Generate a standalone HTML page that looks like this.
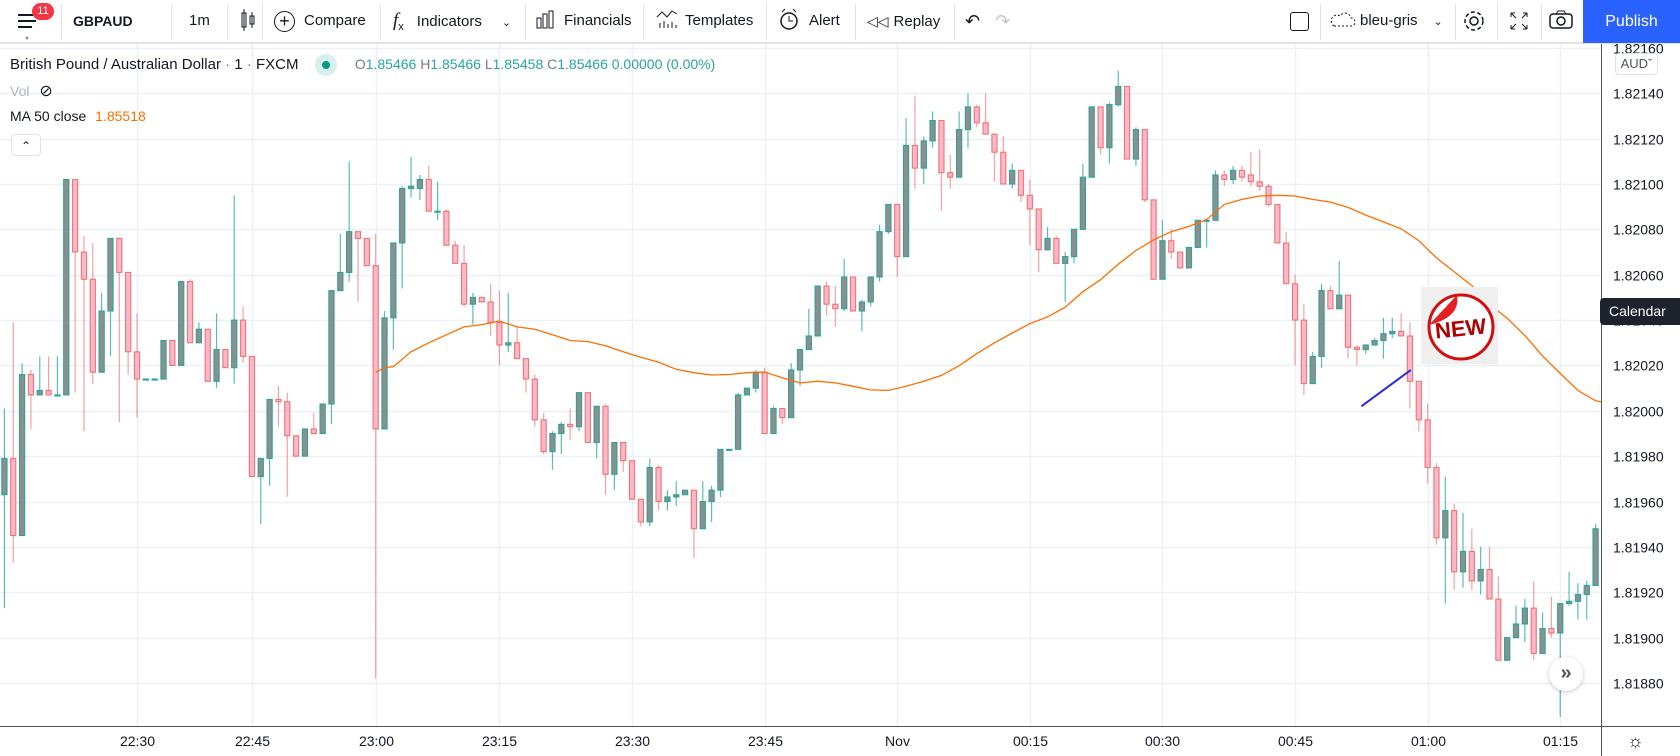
<!DOCTYPE html>
<html><head><meta charset="utf-8"><style>
*{box-sizing:border-box;margin:0;padding:0}
body{width:1680px;height:756px;overflow:hidden;background:#fff;font-family:"Liberation Sans",sans-serif;color:#131722;position:relative}
.tb{position:absolute;left:0;top:0;width:1680px;height:44px;border-bottom:2px solid #e0e3eb;background:#fff}
.ti{position:absolute;top:0;height:42px;line-height:42px;font-size:15px;color:#131722;white-space:nowrap}
.sep{position:absolute;top:4px;width:1px;height:36px;background:#e0e3eb}
.ax{font-size:14px;fill:#131722;font-family:"Liberation Sans",sans-serif}
</style></head><body>
<div class="tb">
  <div class="ti" style="left:17px;top:2px">
    <svg width="22" height="40"><rect x="1" y="12" width="18" height="2" fill="#131722"/><rect x="1" y="18" width="18" height="2" fill="#131722"/><rect x="1" y="24" width="14" height="2" fill="#131722"/><circle cx="10" cy="36" r="1.5" fill="#999"/></svg>
  </div>
  <div style="position:absolute;left:32px;top:3px;width:22px;height:17px;border-radius:9px;background:#f23645;color:#fff;font-size:11px;text-align:center;line-height:17px">11</div>
  <div class="sep" style="left:61px"></div>
  <div class="ti" style="left:73px;font-weight:bold;font-size:14px">GBPAUD</div>
  <div class="sep" style="left:171px"></div>
  <div class="ti" style="left:189px">1m</div>
  <div class="sep" style="left:227px"></div>
  <div class="ti" style="left:239px"><svg width="18" height="40"><rect x="3" y="13" width="4" height="14" fill="none" stroke="#131722"/><line x1="5" y1="9" x2="5" y2="31" stroke="#131722"/><rect x="11" y="16" width="4" height="8" fill="none" stroke="#131722"/><line x1="13" y1="12" x2="13" y2="28" stroke="#131722"/></svg></div>
  <div class="sep" style="left:262px"></div>
  <div class="ti" style="left:274px"><span style="display:inline-block;width:21px;height:21px;border:1.5px solid #131722;border-radius:50%;text-align:center;line-height:18px;font-size:18px;vertical-align:middle;margin-right:9px">+</span>Compare</div>
  <div class="sep" style="left:380px"></div>
  <div class="ti" style="left:393px"><i style="font-family:'Liberation Serif',serif;font-size:19px">f</i><sub style="font-size:11px">x</sub><span style="margin-left:13px">Indicators</span><span style="margin-left:20px;font-size:11px">&#8964;</span></div>
  <div class="sep" style="left:525px"></div>
  <div class="ti" style="left:535px"><svg width="20" height="40" style="vertical-align:top"><rect x="2" y="18" width="4" height="10" fill="none" stroke="#131722"/><rect x="8" y="14" width="4" height="14" fill="none" stroke="#131722"/><rect x="14" y="11" width="4" height="17" fill="none" stroke="#131722"/></svg><span style="margin-left:9px">Financials</span></div>
  <div class="sep" style="left:643px"></div>
  <div class="ti" style="left:656px"><svg width="22" height="40" style="vertical-align:top"><polyline points="1,17 6,12 11,17 16,11 21,14" fill="none" stroke="#131722"/><path d="M4 28v-5M8 28v-7M12 28v-4M16 28v-6M20 28v-3" stroke="#131722"/></svg><span style="margin-left:7px">Templates</span></div>
  <div class="sep" style="left:766px"></div>
  <div class="ti" style="left:778px"><svg width="24" height="40" style="vertical-align:top"><circle cx="11" cy="21" r="8" fill="none" stroke="#131722" stroke-width="1.5"/><path d="M11 16v5h4M4 12l3-3M18 12l-3-3" stroke="#131722" fill="none"/></svg><span style="margin-left:7px">Alert</span></div>
  <div class="sep" style="left:855px"></div>
  <div class="ti" style="left:867px"><span style="font-size:14px">&#9665;&#9665;</span><span style="margin-left:5px">Replay</span></div>
  <div class="sep" style="left:954px"></div>
  <div class="ti" style="left:965px;font-size:18px;color:#131722">&#8630;</div>
  <div class="ti" style="left:995px;font-size:18px;color:#c5c8d0">&#8631;</div>
  <div class="ti" style="left:1290px"><span style="display:inline-block;width:19px;height:19px;border:1.5px solid #131722;border-radius:3px;vertical-align:middle"></span></div>
  <div class="sep" style="left:1320px"></div>
  <div class="ti" style="left:1330px"><svg width="26" height="40" style="vertical-align:top"><path d="M4 26h17a4 4 0 0 0 0-8 6 6 0 0 0-11-2 5 5 0 0 0-6 10z" fill="none" stroke="#131722" stroke-dasharray="2 2"/></svg><span style="margin-left:4px">bleu-gris</span><span style="margin-left:16px;font-size:11px">&#8964;</span></div>
  <div class="sep" style="left:1455px"></div>
  <div class="ti" style="left:1462px"><svg width="24" height="40"><circle cx="12" cy="21" r="4" fill="none" stroke="#131722" stroke-width="1.5"/><circle cx="12" cy="21" r="9" fill="none" stroke="#131722" stroke-width="1.5" stroke-dasharray="4 2.5"/></svg></div>
  <div class="sep" style="left:1497px"></div>
  <div class="ti" style="left:1508px"><svg width="22" height="40"><path d="M3 13l5 5M3 13v4M3 13h4M19 13l-5 5M19 13v4M19 13h-4M3 29l5-5M3 29v-4M3 29h4M19 29l-5-5M19 29v-4M19 29h-4" stroke="#131722" fill="none"/></svg></div>
  <div class="sep" style="left:1541px"></div>
  <div class="ti" style="left:1548px"><svg width="26" height="40"><rect x="2" y="14" width="22" height="14" rx="3" fill="none" stroke="#131722" stroke-width="1.5"/><circle cx="13" cy="21" r="4" fill="none" stroke="#131722" stroke-width="1.5"/><path d="M8 14l2-3h6l2 3" fill="none" stroke="#131722"/></svg></div>
  <div style="position:absolute;left:1583px;top:0;width:97px;height:43px;background:#2962ff;color:#fff;font-size:16px;line-height:43px;text-align:center">Publish</div>
</div>

<svg id="chart" width="1680" height="756" style="position:absolute;left:0;top:0">
  <g id="grid"></g>
  <g id="candles" clip-path="url(#clipc)"></g>
  <g id="ma" clip-path="url(#clipc)"></g>
  <g id="drawings" clip-path="url(#clipc)"></g>
  <defs><clipPath id="clipc"><rect x="0" y="45" width="1601" height="681"/></clipPath></defs>
  <line x1="1601.5" y1="44" x2="1601.5" y2="756" stroke="#50535e" stroke-width="1"/>
  <line x1="0" y1="726.5" x2="1680" y2="726.5" stroke="#50535e" stroke-width="1"/>
  <g id="yaxis"></g>
  <g id="xaxis"></g>
</svg>

<div style="position:absolute;left:10px;top:54px;font-size:15px;white-space:nowrap">
  <span>British Pound / Australian Dollar <span style="color:#787b86">·</span> 1 <span style="color:#787b86">·</span> FXCM</span>
  <span style="display:inline-block;width:22px;height:22px;border-radius:50%;background:#d6f0ee;vertical-align:middle;margin-left:12px;position:relative"><span style="position:absolute;left:7px;top:7px;width:8px;height:8px;border-radius:50%;background:#089981"></span></span>
  <span style="margin-left:14px;font-size:14px"><span style="color:#787b86">O</span><span style="color:#26a69a">1.85466</span> <span style="color:#787b86">H</span><span style="color:#26a69a">1.85466</span> <span style="color:#787b86">L</span><span style="color:#26a69a">1.85458</span> <span style="color:#787b86">C</span><span style="color:#26a69a">1.85466 0.00000 (0.00%)</span></span>
</div>
<div style="position:absolute;left:10px;top:81px;font-size:14px;color:#b2b5be">Vol <span style="font-size:16px;color:#131722;margin-left:6px">&#8856;</span></div>
<div style="position:absolute;left:10px;top:108px;font-size:14px;color:#131722">MA 50 close <span style="color:#ff6d00;margin-left:5px">1.85518</span></div>
<div style="position:absolute;left:11px;top:134px;width:30px;height:22px;border:1px solid #e0e3eb;border-radius:4px;text-align:center;font-size:12px;line-height:22px;background:#fff">&#8963;</div>
<div style="position:absolute;left:1615px;top:53px;width:43px;height:22px;border:1px solid #e0e3eb;border-radius:4px;font-size:13px;line-height:20px;text-align:center;background:#fff;color:#50535e">AUD&#711;</div>
<div style="position:absolute;left:1600px;top:298px;width:80px;height:27px;background:#1e222d;border-radius:4px 0 0 4px;color:#fff;font-size:14px;line-height:27px;padding-left:9px">Calendar</div>
<div style="position:absolute;left:1549px;top:657px;width:34px;height:34px;border-radius:50%;background:#fff;box-shadow:0 1px 5px rgba(0,0,0,.22);text-align:center;line-height:32px;font-size:20px;color:#50535e;font-weight:bold">&#187;</div>
<div style="position:absolute;left:1627px;top:731px;font-size:18px">&#9788;</div>

<div style="position:absolute;left:1421px;top:287px;width:77px;height:77px;background:#efefef">
  <svg width="77" height="77"><circle cx="40" cy="40" r="32" fill="#fff" stroke="#d01010" stroke-width="3"/><path d="M8 38 L36 8 Q40 30 8 38z" fill="#e52020"/><text x="40" y="49" text-anchor="middle" font-family="Liberation Sans" font-weight="bold" font-size="22" fill="#b00000" transform="rotate(-6 40 45)">NEW</text></svg>
</div>

<script>
const opens=[1.81963,1.81979,1.81945,1.82016,1.82007,1.82009,1.82007,1.82007,1.82102,1.82070,1.82058,1.82017,1.82044,1.82076,1.82061,1.82026,1.82014,1.82014,1.82014,1.82031,1.82020,1.82057,1.82030,1.82036,1.82013,1.82027,1.82019,1.82040,1.82024,1.81971,1.81979,1.82005,1.82004,1.81989,1.81980,1.81992,1.81990,1.82003,1.82053,1.82061,1.82079,1.82076,1.82064,1.81992,1.82041,1.82074,1.82098,1.82098,1.82102,1.82088,1.82088,1.82073,1.82065,1.82047,1.82050,1.82048,1.82039,1.82029,1.82030,1.82023,1.82014,1.81996,1.81982,1.81990,1.81994,1.81993,1.82008,1.81986,1.82002,1.81972,1.81986,1.81978,1.81961,1.81951,1.81975,1.81960,1.81962,1.81963,1.81965,1.81948,1.81960,1.81965,1.81983,1.81983,1.82007,1.82010,1.82017,1.81990,1.82001,1.81997,1.82018,1.82027,1.82033,1.82055,1.82047,1.82045,1.82059,1.82044,1.82048,1.82059,1.82079,1.82091,1.82068,1.82117,1.82107,1.82119,1.82128,1.82105,1.82103,1.82124,1.82134,1.82127,1.82122,1.82114,1.82100,1.82106,1.82095,1.82089,1.82071,1.82076,1.82065,1.82068,1.82080,1.82103,1.82134,1.82116,1.82135,1.82143,1.82111,1.82124,1.82093,1.82058,1.82075,1.82070,1.82063,1.82072,1.82084,1.82084,1.82104,1.82102,1.82106,1.82104,1.82101,1.82099,1.82091,1.82074,1.82056,1.82040,1.82012,1.82024,1.82053,1.82045,1.82051,1.82028,1.82027,1.82029,1.82031,1.82034,1.82035,1.82033,1.82013,1.81996,1.81975,1.81944,1.81956,1.81929,1.81938,1.81925,1.81930,1.81917,1.81890,1.81900,1.81906,1.81913,1.81893,1.81904,1.81902,1.81915,1.81916,1.81919,1.81923];
const highs=[1.82001,1.82039,1.82021,1.82018,1.82024,1.82024,1.82024,1.82102,1.82102,1.82077,1.82074,1.82052,1.82076,1.82076,1.82061,1.82043,1.82014,1.82014,1.82031,1.82031,1.82057,1.82058,1.82039,1.82036,1.82043,1.82027,1.82095,1.82046,1.82024,1.81979,1.82005,1.82011,1.82008,1.81989,1.81992,1.81999,1.82003,1.82053,1.82078,1.82110,1.82079,1.82076,1.82078,1.82044,1.82074,1.82099,1.82112,1.82104,1.82108,1.82101,1.82089,1.82075,1.82073,1.82052,1.82050,1.82056,1.82053,1.82052,1.82037,1.82023,1.82016,1.81999,1.81991,1.81995,1.82001,1.82008,1.82008,1.82002,1.82003,1.81986,1.81986,1.81978,1.81961,1.81979,1.81976,1.81965,1.81969,1.81965,1.81965,1.81969,1.81967,1.81983,1.81983,1.82008,1.82010,1.82018,1.82019,1.82002,1.82001,1.82021,1.82027,1.82045,1.82055,1.82057,1.82055,1.82067,1.82059,1.82049,1.82059,1.82082,1.82091,1.82091,1.82129,1.82139,1.82121,1.82132,1.82128,1.82113,1.82132,1.82140,1.82135,1.82140,1.82122,1.82121,1.82109,1.82106,1.82102,1.82089,1.82081,1.82077,1.82070,1.82080,1.82109,1.82134,1.82134,1.82136,1.82150,1.82143,1.82125,1.82124,1.82093,1.82084,1.82080,1.82070,1.82072,1.82084,1.82084,1.82106,1.82106,1.82108,1.82108,1.82114,1.82115,1.82100,1.82091,1.82079,1.82060,1.82047,1.82026,1.82056,1.82055,1.82066,1.82051,1.82029,1.82029,1.82032,1.82041,1.82041,1.82043,1.82039,1.82013,1.82003,1.81977,1.81971,1.81959,1.81955,1.81948,1.81940,1.81940,1.81927,1.81900,1.81914,1.81917,1.81925,1.81911,1.81918,1.81915,1.81929,1.81924,1.81925,1.81950];
const lows=[1.81913,1.81933,1.81945,1.81992,1.82007,1.82007,1.82007,1.82007,1.82008,1.81991,1.82012,1.82017,1.82024,1.81995,1.82016,1.81997,1.82014,1.82014,1.82014,1.82020,1.82020,1.82030,1.82030,1.82013,1.82010,1.82019,1.82012,1.82021,1.81971,1.81950,1.81967,1.81993,1.81962,1.81980,1.81980,1.81990,1.81990,1.81994,1.82053,1.82057,1.82048,1.82064,1.81882,1.81992,1.82027,1.82054,1.82094,1.82093,1.82088,1.82084,1.82073,1.82065,1.82046,1.82038,1.82048,1.82033,1.82020,1.82026,1.82023,1.82008,1.81993,1.81981,1.81974,1.81981,1.81987,1.81991,1.81986,1.81979,1.81963,1.81965,1.81973,1.81961,1.81949,1.81949,1.81956,1.81956,1.81958,1.81963,1.81935,1.81948,1.81951,1.81962,1.81983,1.81983,1.82007,1.82008,1.81990,1.81990,1.81994,1.81997,1.82011,1.82027,1.82033,1.82042,1.82037,1.82044,1.82044,1.82035,1.82046,1.82057,1.82078,1.82059,1.82068,1.82098,1.82100,1.82116,1.82088,1.82098,1.82103,1.82116,1.82125,1.82122,1.82101,1.82100,1.82098,1.82092,1.82073,1.82061,1.82071,1.82065,1.82048,1.82065,1.82080,1.82103,1.82113,1.82109,1.82134,1.82111,1.82108,1.82092,1.82058,1.82058,1.82067,1.82063,1.82063,1.82072,1.82072,1.82084,1.82099,1.82100,1.82101,1.82099,1.82097,1.82090,1.82074,1.82056,1.82020,1.82007,1.82012,1.82019,1.82045,1.82045,1.82023,1.82020,1.82025,1.82029,1.82023,1.82032,1.82033,1.82001,1.81991,1.81968,1.81941,1.81915,1.81921,1.81922,1.81921,1.81919,1.81917,1.81890,1.81890,1.81900,1.81898,1.81890,1.81893,1.81900,1.81865,1.81914,1.81908,1.81908,1.81923];
const closes=[1.81979,1.81945,1.82016,1.82007,1.82009,1.82007,1.82007,1.82102,1.82070,1.82058,1.82017,1.82044,1.82076,1.82061,1.82026,1.82014,1.82014,1.82014,1.82031,1.82020,1.82057,1.82030,1.82036,1.82013,1.82027,1.82019,1.82040,1.82024,1.81971,1.81979,1.82005,1.82004,1.81989,1.81980,1.81992,1.81990,1.82003,1.82053,1.82061,1.82079,1.82076,1.82064,1.81992,1.82041,1.82074,1.82098,1.82099,1.82102,1.82088,1.82088,1.82073,1.82065,1.82047,1.82050,1.82048,1.82039,1.82029,1.82030,1.82023,1.82014,1.81996,1.81982,1.81990,1.81994,1.81993,1.82008,1.81986,1.82002,1.81972,1.81986,1.81978,1.81961,1.81951,1.81975,1.81960,1.81962,1.81963,1.81965,1.81948,1.81960,1.81965,1.81983,1.81983,1.82007,1.82010,1.82017,1.81990,1.82001,1.81997,1.82018,1.82027,1.82033,1.82055,1.82047,1.82045,1.82059,1.82044,1.82048,1.82059,1.82079,1.82091,1.82068,1.82117,1.82107,1.82119,1.82128,1.82105,1.82103,1.82124,1.82134,1.82127,1.82122,1.82114,1.82100,1.82106,1.82095,1.82089,1.82071,1.82076,1.82065,1.82068,1.82080,1.82103,1.82134,1.82116,1.82135,1.82143,1.82111,1.82124,1.82093,1.82058,1.82075,1.82070,1.82063,1.82072,1.82084,1.82084,1.82104,1.82102,1.82106,1.82103,1.82101,1.82099,1.82091,1.82074,1.82056,1.82040,1.82012,1.82024,1.82053,1.82045,1.82051,1.82028,1.82027,1.82029,1.82031,1.82034,1.82035,1.82033,1.82013,1.81996,1.81975,1.81944,1.81956,1.81929,1.81938,1.81925,1.81930,1.81917,1.81890,1.81900,1.81906,1.81913,1.81893,1.81904,1.81902,1.81915,1.81916,1.81919,1.81923,1.81948];
const maBars=[42,43,44,46,48,50,52,54,56,58,60,62,64,66,68,70,72,74,76,78,80,82,84,86,88,90,92,94,96,98,100,102,104,106,108,110,112,114,116,118,120,122,124,126,128,130,132,134,136,138,140,142,144,146,148,150,152,154,156,158,160,162,164,166,168,170,172,174,176,178,180];
const maValues=[1.82017,1.82019,1.820195,1.82026,1.8203,1.820335,1.82037,1.82038,1.820396,1.82037,1.82036,1.820335,1.82031,1.820305,1.820287,1.82026,1.820236,1.820214,1.820183,1.820168,1.820158,1.8201,1.820168,1.820171,1.820146,1.820123,1.82013,1.820123,1.820108,1.820092,1.82009,1.820108,1.82013,1.820156,1.820199,1.820252,1.8203,1.820343,1.820384,1.820414,1.820457,1.820525,1.820578,1.820646,1.820707,1.820753,1.82079,1.820813,1.820843,1.82091,1.820932,1.820947,1.8209500,1.820947,1.820932,1.82092,1.820897,1.820863,1.820833,1.820803,1.82075,1.820674,1.820613,1.820552,1.820469,1.820408,1.820332,1.820241,1.820165,1.82009,1.820044];
maValues[21]=1.82016;
const priceTicks=[1.8216,1.8214,1.8212,1.821,1.8208,1.8206,1.8204,1.8202,1.82,1.8198,1.8196,1.8194,1.8192,1.819,1.8188];
const timeLabels=["22:30","22:45","23:00","23:15","23:30","23:45","Nov","00:15","00:30","00:45","01:00","01:15"];
const timeBars=[15,28,42,56,71,86,101,116,131,146,161,176];
const trendBars=[153.5,159.1];
const trendPrices=[1.82002,1.82018];

const NS="http://www.w3.org/2000/svg";
function xS(i){return 4.4+i*8.84;}
function yS(p){return 184+(1.821-p)*1e5*2.268;}
function mk(tag,attrs,parent){const e=document.createElementNS(NS,tag);for(const k in attrs)e.setAttribute(k,attrs[k]);parent.appendChild(e);return e;}
const grid=document.getElementById('grid'),cg=document.getElementById('candles'),yax=document.getElementById('yaxis'),xax=document.getElementById('xaxis');
priceTicks.forEach(p=>{const y=Math.round(yS(p))+0.5;
  const l=mk('line',{x1:0,x2:1601,y1:y,y2:y,stroke:'#edf0f6','stroke-width':1.5},grid);
  
  
  const t=mk('text',{x:1613,y:y+5,class:'ax'},yax);t.textContent=p.toFixed(5);
  
  
});
timeBars.forEach((b,k)=>{const x=Math.round(xS(b))+0.5;
  const l=mk('line',{x1:x,x2:x,y1:44,y2:726,stroke:'#edf0f6','stroke-width':1.5},grid);
  
  
  const t=mk('text',{x:x,y:746,class:'ax','text-anchor':'middle'},xax);t.textContent=timeLabels[k];
  
  
});
for(let i=0;i<opens.length;i++){
  const o=opens[i],c=closes[i],h=highs[i],lo=lows[i],up=c>=o;
  const x=xS(i);
  const w=mk('line',{x1:x,x2:x,y1:yS(h),y2:yS(lo),stroke:up?'#26a69a':'#ef5350','stroke-opacity':up?0.75:0.55,'stroke-width':1.2},cg);
  
  
  const top=yS(Math.max(o,c)),bot=yS(Math.min(o,c));
  const r=mk('rect',{x:x-2.6,y:top,width:5.2,height:Math.max(1,bot-top),fill:up?'#8e8e8e':'#f7b8c9',stroke:up?'#26a69a':'#ef5350','stroke-width':1.1,'stroke-opacity':up?1:0.75},cg);
  
  
}
const pts=maBars.map((b,k)=>xS(b).toFixed(1)+','+yS(maValues[k]).toFixed(1));
pts.push((xS(maBars[maBars.length-1])+10).toFixed(1)+','+yS(maValues[maValues.length-1]-0.000008).toFixed(1));
const ma=mk('polyline',{points:pts.join(' '),fill:'none',stroke:'#ff6d00','stroke-width':1.3},document.getElementById('ma'));


const tl=mk('line',{x1:xS(trendBars[0]),y1:yS(trendPrices[0]),x2:xS(trendBars[1]),y2:yS(trendPrices[1]),stroke:'#2929d6','stroke-width':2},document.getElementById('drawings'));


</script>
</body></html>
